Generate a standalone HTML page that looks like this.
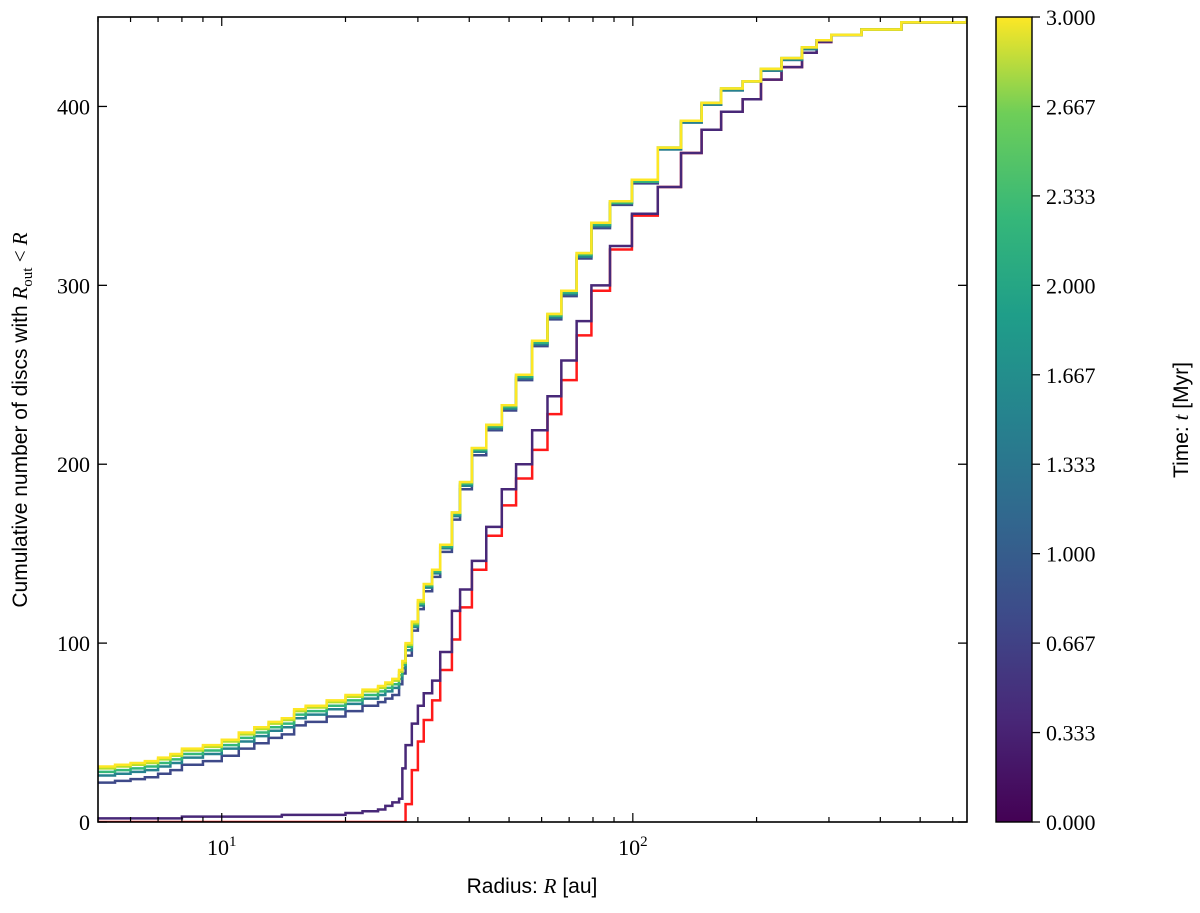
<!DOCTYPE html>
<html><head><meta charset="utf-8"><style>
body{margin:0;background:#fff;}
svg text{font-family:"Liberation Serif",serif;}
.lab{font-family:"Liberation Sans",sans-serif;font-size:21px;}
</style></head><body>
<svg id="c" width="1200" height="908" xmlns="http://www.w3.org/2000/svg">
<defs><linearGradient id="vir" x1="0" y1="1" x2="0" y2="0">
<stop offset="0" stop-color="#440154"/><stop offset="0.13" stop-color="#482878"/><stop offset="0.25" stop-color="#3e4989"/><stop offset="0.38" stop-color="#31688e"/><stop offset="0.5" stop-color="#26828e"/><stop offset="0.63" stop-color="#1f9e89"/><stop offset="0.75" stop-color="#35b779"/><stop offset="0.88" stop-color="#6ece58"/><stop offset="1" stop-color="#fde725"/></linearGradient>
<clipPath id="clip"><rect x="98" y="17" width="869" height="805"/></clipPath></defs>
<g id="series" clip-path="url(#clip)"></g>
<g id="axes"></g>
</svg>
<script>
const radii=[5,5.5,6,6.5,7,7.5,8,9,10,11,12,13,14,15,16,18,20,22,24,25,26,27,27.5,28,29,30,31,32.5,34,36.3,38,40.6,44,48,52,56.9,62,67,73,79.3,88,99.5,115,131,147,164,185,205,230,258,280,304,360,450,650];
const seriesColors=["#fde725","#b5de2b","#35b779","#26828e","#3e4989","#482878"];
const s300=[31,32,33,34,36,38,41,43,46,50,53,56,58,63,65,68,71,74,76,78,80,85,90,100,112,124,133,141,155,173,190,209,222,233,250,269,284,297,318,335,347,359,377,392,402,410,414,421,427,433,437,440,443,447,449];
const s267=[30,31,32,33,35,37,40,42,45,49,52,55,57,62,64,67,70,73,75,77,79,84,89,99,111,123,133,141,155,173,190,209,222,233,250,269,284,297,318,335,347,359,377,392,402,410,414,421,427,433,437,440,443,447,449];
const s200=[28,29,30,31,33,35,38,40,43,47,50,53,55,60,62,65,68,71,73,75,77,82,88,98,110,122,132,140,154,172,189,208,221,232,249,268,283,296,317,334,346,358,377,392,402,410,414,421,427,433,437,440,443,447,449];
const s133=[26,27,28,29,31,33,36,38,41,45,48,51,53,58,60,63,66,69,71,73,75,80,86,96,109,121,131,139,153,171,188,207,220,231,248,267,282,295,316,333,346,358,376,391,401,409,414,420,426,432,437,440,443,447,449];
const s067=[22,23,24,25,27,29,32,34,37,41,44,47,49,54,56,59,62,65,67,69,71,77,83,93,107,119,129,137,151,169,186,205,219,230,247,266,281,294,315,332,345,357,376,391,401,409,414,420,426,432,437,440,443,447,449];
const s033=[2,2,2,2,2,2,3,3,3,3,3,3,4,4,4,4,5,6,7,9,11,13,30,43,55,65,72,79,95,118,130,146,165,186,200,219,238,258,280,300,322,340,355,374,387,397,404,415,422,430,436,440,443,447,449];
const sInit=[0,0,0,0,0,0,0,0,0,0,0,0,0,0,0,0,0,0,0,0,0,0,0,10,29,45,57,68,85,102,120,141,160,177,192,208,228,247,272,297,320,339,355,374,387,397,404,415,422,430,436,440,443,447,449];
const yTicks=[0,100,200,300,400];
const cbTicks=["0.000","0.333","0.667","1.000","1.333","1.667","2.000","2.333","2.667","3.000"];
const X0=98,X1=967,Y0=822,Y1=17;
const xmin=Math.log10(5),xmax=Math.log10(650);
const xs=r=>X0+(Math.log10(r)-xmin)/(xmax-xmin)*(X1-X0);
const ys=v=>Y0-v/450*(Y0-Y1);
const NS="http://www.w3.org/2000/svg";
function mk(t,a,p){const e=document.createElementNS(NS,t);for(const k in a)e.setAttribute(k,a[k]);p.appendChild(e);return e;}
const sg=document.getElementById('series'),ag=document.getElementById('axes');
function draw(vals,col,name){let d="";for(let i=0;i<radii.length;i++){const x=xs(radii[i]),y=ys(vals[i]);if(i==0)d+="M"+xs(4)+" "+y+" L"+x+" "+y;else d+=" L"+x+" "+ys(vals[i-1])+" L"+x+" "+y;}
d+=" L"+(X1+5)+" "+ys(vals[vals.length-1]);
const p=mk('path',{d:d,fill:'none',stroke:col,'stroke-width':2.5},sg);

}
draw(sInit,"#ff1a1a","series-initial");
draw(s033,seriesColors[5],"series-t0333");
draw(s067,seriesColors[4],"series-t0667");
draw(s133,seriesColors[3],"series-t1333");
draw(s200,seriesColors[2],"series-t2000");
draw(s267,seriesColors[1],"series-t2667");
draw(s300,seriesColors[0],"series-t3000");
mk('rect',{x:X0,y:Y1,width:X1-X0,height:Y0-Y1,fill:'none',stroke:'#000','stroke-width':1.6},ag);
yTicks.forEach(v=>{const y=ys(v);mk('line',{x1:X0,x2:X0+9,y1:y,y2:y,stroke:'#000','stroke-width':1.3},ag);mk('line',{x1:X1,x2:X1-9,y1:y,y2:y,stroke:'#000','stroke-width':1.3},ag);
const t=mk('text',{x:X0-8,y:y+8,'text-anchor':'end','font-size':22},ag);t.textContent=v;

});
for(let dec=0;dec<3;dec++)for(let m=1;m<10;m++){const r=m*Math.pow(10,dec);if(r<5||r>650)continue;const x=xs(r);const L=m==1?9:5;
mk('line',{x1:x,x2:x,y1:Y0,y2:Y0-L,stroke:'#000','stroke-width':1.2},ag);mk('line',{x1:x,x2:x,y1:Y1,y2:Y1+L,stroke:'#000','stroke-width':1.2},ag);
if(m==1){const t=mk('text',{x:x,y:Y0+33,'text-anchor':'middle','font-size':22},ag);t.innerHTML='10<tspan dy="-9" font-size="15">'+(dec)+'</tspan>';

}}
const xl=mk('text',{x:532,y:893,'text-anchor':'middle',class:'lab'},ag);xl.innerHTML='Radius: <tspan font-family="Liberation Serif" font-style="italic">R</tspan> [au]';


const yl=mk('text',{x:0,y:0,'text-anchor':'middle',class:'lab',transform:'translate(27,420) rotate(-90)'},ag);yl.innerHTML='Cumulative number of discs with <tspan font-family="Liberation Serif" font-style="italic">R</tspan><tspan font-family="Liberation Serif" font-size="15" dy="5">out</tspan><tspan dy="-5" font-family="Liberation Serif"> &lt; </tspan><tspan font-family="Liberation Serif" font-style="italic">R</tspan>';


const cb=mk('rect',{x:996,y:17,width:36,height:805,fill:'url(#vir)',stroke:'#000','stroke-width':1.4},ag);


cbTicks.forEach((s,i)=>{const y=Y0-i/9*(Y0-Y1);mk('line',{x1:1032,x2:1040,y1:y,y2:y,stroke:'#000','stroke-width':1.3},ag);
const t=mk('text',{x:1046,y:y+8,'font-size':22},ag);t.textContent=s;

});
const cl=mk('text',{x:0,y:0,'text-anchor':'middle',class:'lab',transform:'translate(1188,420) rotate(-90)'},ag);cl.innerHTML='Time: <tspan font-family="Liberation Serif" font-style="italic">t</tspan> [Myr]';


</script>
</body></html>
